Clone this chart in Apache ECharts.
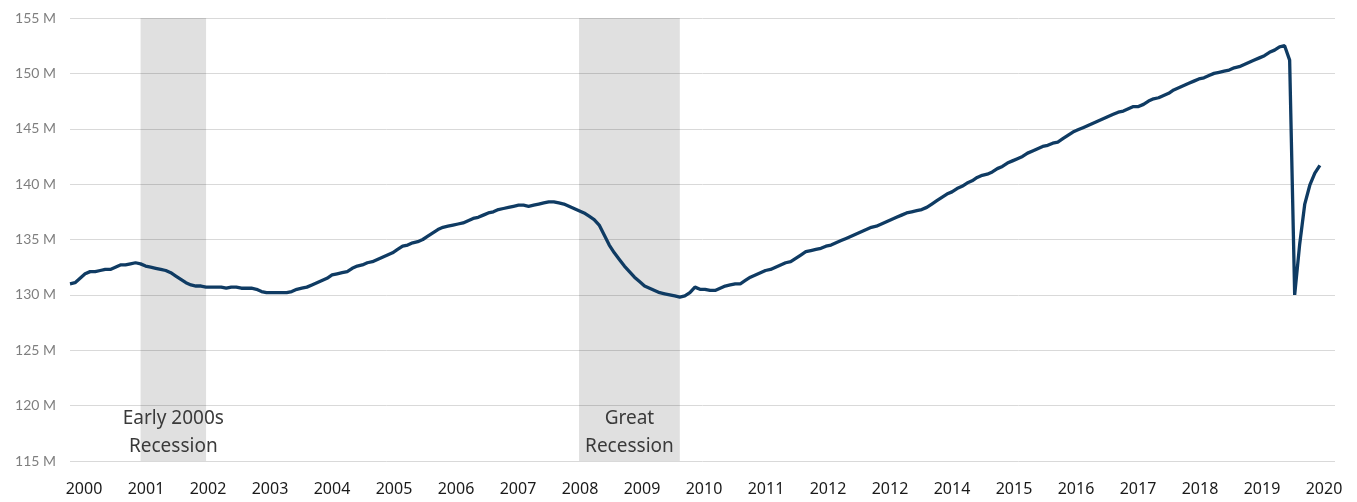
<!DOCTYPE html>
<html>
<head>
<meta charset="utf-8">
<script src="https://cdn.jsdelivr.net/npm/echarts@6/dist/echarts.min.js"></script>
<style>
  html, body { margin: 0; padding: 0; background: #fff; }
  #main { width: 1357px; height: 502px; }
</style>
</head>
<body>
<div id="main"></div>
<script>
// total employment, millions, monthly from Jan 2000
const y2000 = [131.0, 131.1, 131.5, 131.9, 132.1, 132.1, 132.2, 132.3, 132.3, 132.5, 132.7, 132.7];
const y2001 = [132.8, 132.9, 132.8, 132.6, 132.5, 132.4, 132.3, 132.2, 132.0, 131.7, 131.4, 131.1];
const y2002 = [130.9, 130.8, 130.8, 130.7, 130.7, 130.7, 130.7, 130.6, 130.7, 130.7, 130.6, 130.6];
const y2003 = [130.6, 130.5, 130.3, 130.2, 130.2, 130.2, 130.2, 130.2, 130.3, 130.5, 130.6, 130.7];
const y2004 = [130.9, 131.1, 131.3, 131.5, 131.8, 131.9, 132.0, 132.1, 132.4, 132.6, 132.7, 132.9];
const y2005 = [133.0, 133.2, 133.4, 133.6, 133.8, 134.1, 134.4, 134.5, 134.7, 134.8, 135.0, 135.3];
const y2006 = [135.6, 135.9, 136.1, 136.2, 136.3, 136.4, 136.5, 136.7, 136.9, 137.0, 137.2, 137.4];
const y2007 = [137.5, 137.7, 137.8, 137.9, 138.0, 138.1, 138.1, 138.0, 138.1, 138.2, 138.3, 138.4];
const y2008 = [138.4, 138.3, 138.2, 138.0, 137.8, 137.6, 137.4, 137.1, 136.8, 136.3, 135.4, 134.5];
const y2009 = [133.8, 133.2, 132.6, 132.1, 131.6, 131.2, 130.8, 130.6, 130.4, 130.2, 130.1, 130.0];
const y2010 = [129.9, 129.8, 129.9, 130.2, 130.7, 130.5, 130.5, 130.4, 130.4, 130.6, 130.8, 130.9];
const y2011 = [131.0, 131.0, 131.3, 131.6, 131.8, 132.0, 132.2, 132.3, 132.5, 132.7, 132.9, 133.0];
const y2012 = [133.3, 133.6, 133.9, 134.0, 134.1, 134.2, 134.4, 134.5, 134.7, 134.9, 135.1, 135.3];
const y2013 = [135.5, 135.7, 135.9, 136.1, 136.2, 136.4, 136.6, 136.8, 137.0, 137.2, 137.4, 137.5];
const y2014 = [137.6, 137.7, 137.9, 138.2, 138.5, 138.8, 139.1, 139.3, 139.6, 139.8, 140.1, 140.3];
const y2015 = [140.6, 140.8, 140.9, 141.1, 141.4, 141.6, 141.9, 142.1, 142.3, 142.5, 142.8, 143.0];
const y2016 = [143.2, 143.4, 143.5, 143.7, 143.8, 144.1, 144.4, 144.7, 144.9, 145.1, 145.3, 145.5];
const y2017 = [145.7, 145.9, 146.1, 146.3, 146.5, 146.6, 146.8, 147.0, 147.0, 147.2, 147.5, 147.7];
const y2018 = [147.8, 148.0, 148.2, 148.5, 148.7, 148.9, 149.1, 149.3, 149.5, 149.6, 149.8, 150.0];
const y2019 = [150.1, 150.2, 150.3, 150.5, 150.6, 150.8, 151.0, 151.2, 151.4, 151.6, 151.9, 152.1];
const y2020 = [152.4, 152.5, 151.2, 130.0, 134.6, 138.2, 139.9, 141.0, 141.7];

const employment = [].concat(y2000, y2001, y2002, y2003, y2004, y2005, y2006, y2007,
  y2008, y2009, y2010, y2011, y2012, y2013, y2014, y2015, y2016, y2017, y2018, y2019, y2020);

// x labels as printed under the chart (the second "2012" is in the original)
const tickLabels = ["2000", "2001", "2002", "2003", "2004", "2005", "2006", "2007", "2008", "2009",
  "2010", "2011", "2012", "2012", "2014", "2015", "2016", "2017", "2018", "2019", "2020"];

const recessions = [
  { name: "Early 2000s\nRecession", from: "2001-03", to: "2002-04" },
  { name: "Great\nRecession", from: "2008-06", to: "2010-02" }
];

// month categories 2000-01 .. 2020-12
let months = [];
for (let y = 2000; y <= 2020; y++) {
  for (let m = 1; m <= 12; m++) {
    months.push(y + "-" + (m < 10 ? "0" + m : m));
  }
}

let myChart = echarts.init(document.getElementById("main"));

let option = {
  animation: false,
  grid: [
    { left: 70, right: 22, top: 18, bottom: 41 },
    { left: 84, right: 33, top: 18, bottom: 41 }
  ],
  xAxis: [
    {
      type: "category",
      gridIndex: 0,
      data: months,
      boundaryGap: false,
      axisLine: { show: false },
      axisTick: { show: false },
      axisLabel: { show: false }
    },
    {
      type: "value",
      gridIndex: 1,
      min: 0,
      max: 20,
      interval: 1,
      axisLine: { show: false },
      axisTick: { show: false },
      splitLine: { show: false },
      axisLabel: {
        margin: 20,
        color: "#1a1a1a",
        fontSize: 16,
        fontFamily: "Noto Sans",
        formatter: function (v) { return tickLabels[v]; }
      }
    }
  ],
  yAxis: [
    {
      type: "value",
      gridIndex: 0,
      min: 115,
      max: 155,
      interval: 5,
      axisLine: { show: false },
      axisTick: { show: false },
      splitLine: { lineStyle: { color: "#d9d9d9", width: 1 } },
      axisLabel: {
        margin: 14,
        color: "#7f7f7f",
        fontSize: 14,
        fontFamily: "Lato",
        formatter: "{value} M"
      }
    },
    { type: "value", gridIndex: 1, show: false, min: 0, max: 1 }
  ],
  series: [
    {
      type: "line",
      xAxisIndex: 0,
      yAxisIndex: 0,
      data: employment,
      showSymbol: false,
      lineStyle: { color: "#0f3b63", width: 3.3 },
      markArea: {
        silent: true,
        itemStyle: { color: "rgba(0,0,0,0.12)" },
        label: {
          show: true,
          position: "insideBottom",
          distance: 0,
          color: "#3a3a3a",
          fontSize: 19,
          lineHeight: 28,
          fontFamily: "Noto Sans",
          align: "center"
        },
        data: recessions.map(r => [{ name: r.name, xAxis: r.from }, { xAxis: r.to }])
      }
    }
  ]
};

myChart.setOption(option);
</script>
</body>
</html>
